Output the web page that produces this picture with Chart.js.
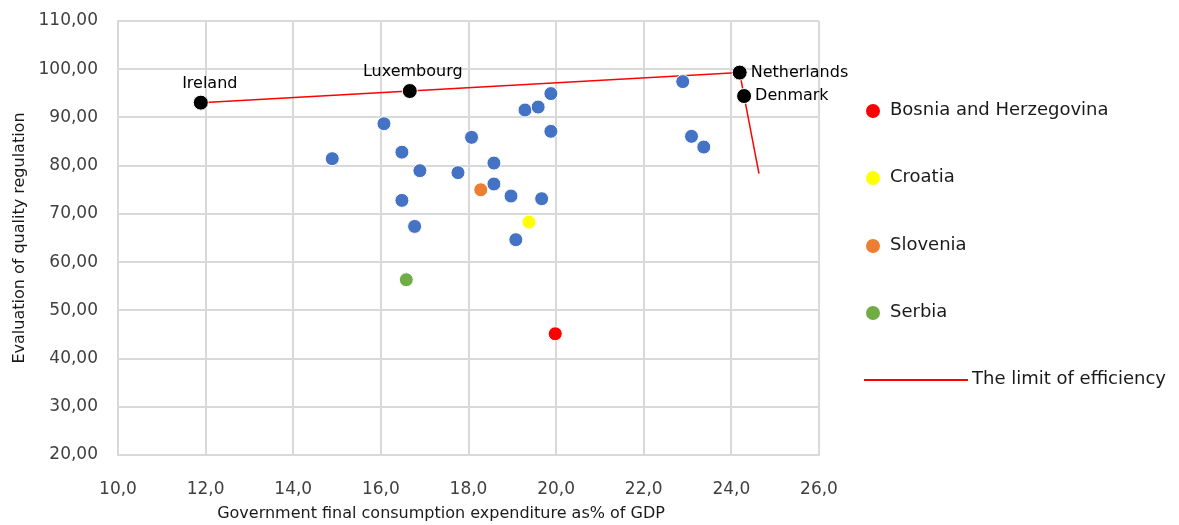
<!DOCTYPE html>
<html lang="en">
<head>
  <meta charset="UTF-8" />
  <title>The limit of efficiency</title>
  <script src="https://cdn.jsdelivr.net/npm/chart.js"></script>
  <style>
    body {
      margin: 0;
      background: #fff;
      font-family: "DejaVu Sans", sans-serif;
    }
    .wrap {
      position: relative;
      width: 1179px;
      height: 525px;
    }
    #legend {
      position: absolute;
      left: 864px;
      top: 98px;
      font-size: 18px;
      color: #1a1a1a;
    }
    .item {
      height: 67.3px;
      display: flex;
      align-items: flex-start;
    }
    .dot {
      width: 14px;
      height: 14px;
      border-radius: 50%;
      margin: 6px 10px 0 2px;
    }
    .line {
      width: 104px;
      height: 2px;
      background: #ff0000;
      margin: 12px 4px 0 0;
    }
  </style>
</head>
<body>
  <div class="wrap">
    <canvas id="chart" width="1179" height="525"></canvas>
    <div id="legend"></div>
  </div>

  <script>
    // other countries (blue)
    const otherX = [14.89, 16.07, 16.48, 16.48, 16.89, 16.77, 17.76, 18.07, 18.58, 18.58,
                    18.97, 19.67, 19.08, 19.29, 19.59, 19.88, 19.88, 22.89, 23.09, 23.37];
    const otherY = [81.45, 88.7, 82.8, 72.8, 78.96, 67.4, 78.55, 85.87, 80.54, 76.2,
                    73.7, 73.15, 64.65, 91.54, 92.16, 94.94, 87.12, 97.43, 86.08, 83.86];

    // efficient countries (black, labelled)
    const leaderNames = ["Ireland", "Luxembourg", "Netherlands", "Denmark"];
    const leaderX = [11.89, 16.66, 24.19, 24.29];
    const leaderY = [93.07, 95.48, 99.3, 94.44];

    // the limit of efficiency
    const limitX = [11.89, 16.66, 24.19, 24.29, 24.63];
    const limitY = [93.07, 95.48, 99.3, 94.44, 78.34];

    // highlighted countries
    const hlNames = ["Bosnia and Herzegovina", "Croatia", "Slovenia", "Serbia"];
    const hlX = [19.98, 19.38, 18.28, 16.58];
    const hlY = [45.14, 68.3, 75.0, 56.35];
    const hlColors = ["#ff0000", "#ffff00", "#ed7d31", "#70ad47"];

    const xTicks = [10, 12, 14, 16, 18, 20, 22, 24, 26];
    const yTicks = [20, 30, 40, 50, 60, 70, 80, 90, 100, 110];

    const xTitle = "Government final consumption expenditure as% of GDP";
    const yTitle = "Evaluation of quality regulation";

    const pts = (xs, ys) => xs.map((x, i) => ({ x, y: ys[i] }));

    const datasets = [];
    hlNames.forEach((name, i) => {
      datasets.push({
        label: name,
        data: [{ x: hlX[i], y: hlY[i] }],
        backgroundColor: hlColors[i],
        borderColor: "#ffffff",
        borderWidth: 1,
        pointRadius: 7,
        order: 1
      });
    });
    datasets.push({
      label: "Leaders",
      data: pts(leaderX, leaderY),
      backgroundColor: "#000000",
      borderColor: "#ffffff",
      borderWidth: 1,
      pointRadius: 7.5,
      order: 0
    });
    datasets.push({
      label: "Others",
      data: pts(otherX, otherY),
      backgroundColor: "#4472c4",
      borderColor: "#ffffff",
      borderWidth: 1,
      pointRadius: 7,
      order: 2
    });
    datasets.push({
      label: "The limit of efficiency",
      data: pts(limitX, limitY),
      showLine: true,
      borderColor: "#ff0000",
      borderWidth: 1.5,
      pointRadius: 0,
      order: 3
    });

    // names next to the black points, and the x axis title (centred on the whole figure like Excel does)
    const extraText = {
      id: "extraText",
      afterDraw(chart) {
        const idx = chart.data.datasets.findIndex(d => d.label === "Leaders");
        const meta = chart.getDatasetMeta(idx);
        const ctx = chart.ctx;
        ctx.save();
        ctx.font = "16px 'DejaVu Sans'";
        ctx.fillStyle = "#000";
        ctx.textBaseline = "middle";
        meta.data.forEach((p, i) => {
          if (i < 2) {
            ctx.textAlign = "center";
            ctx.fillText(leaderNames[i], p.x + (i === 0 ? 9 : 3), p.y - 19);
          } else {
            ctx.textAlign = "left";
            ctx.fillText(leaderNames[i], p.x + 11, p.y);
          }
        });
        ctx.fillStyle = "#1a1a1a";
        ctx.textAlign = "center";
        ctx.fillText(xTitle, 441, 514);
        ctx.restore();
      }
    };

    const tickFont = { family: "DejaVu Sans", size: 17 };

    new Chart(document.getElementById("chart"), {
      type: "scatter",
      data: { datasets },
      plugins: [extraText],
      options: {
        responsive: false,
        animation: false,
        layout: { padding: { left: 0, top: 21, right: 360, bottom: 0 } },
        plugins: {
          legend: { display: false },
          tooltip: { enabled: false }
        },
        scales: {
          x: {
            type: "linear",
            min: 10,
            max: 26,
            afterBuildTicks: s => { s.ticks = xTicks.map(v => ({ value: v })); },
            afterFit: s => { s.height = 70; },
            grid: { color: "#d9d9d9", lineWidth: 2, drawTicks: false },
            border: { color: "#d9d9d9", width: 2 },
            ticks: {
              font: tickFont,
              color: "#404040",
              padding: 24,
              maxRotation: 0,
              callback: v => v.toFixed(1).replace(".", ",")
            }
          },
          y: {
            type: "linear",
            min: 20,
            max: 110,
            afterBuildTicks: s => { s.ticks = yTicks.map(v => ({ value: v })); },
            afterFit: s => {
              s.width = 118;
              s.paddingTop = 0;
              s.paddingBottom = 0;
            },
            grid: { color: "#d9d9d9", lineWidth: 2, drawTicks: false },
            border: { color: "#d9d9d9", width: 2 },
            ticks: {
              font: tickFont,
              color: "#404040",
              padding: 20,
              callback: v => v.toFixed(2).replace(".", ",")
            },
            title: {
              display: true,
              text: yTitle,
              font: { family: "DejaVu Sans", size: 16 },
              color: "#1a1a1a",
              padding: { top: 10, bottom: 4 }
            }
          }
        }
      }
    });

    // legend on the right
    const legend = document.getElementById("legend");
    hlNames.forEach((name, i) => {
      legend.innerHTML += `<div class="item"><span class="dot" style="background:${hlColors[i]}"></span>${name}</div>`;
    });
    legend.innerHTML += `<div class="item"><span class="line"></span>The limit of efficiency</div>`;
  </script>
</body>
</html>
